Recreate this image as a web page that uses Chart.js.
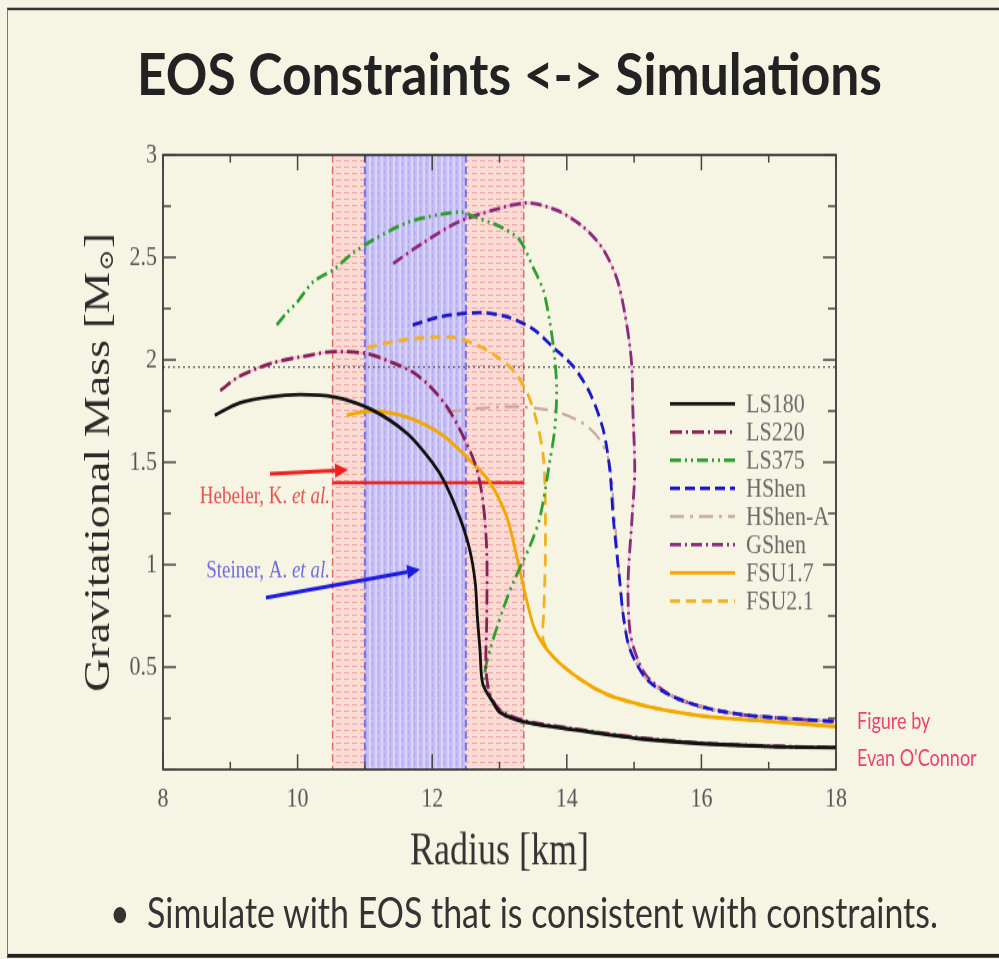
<!DOCTYPE html>
<html lang="en">
<head>
<meta charset="UTF-8">
<title>EOS Constraints &lt;-&gt; Simulations</title>
<script src="https://cdn.jsdelivr.net/npm/chart.js@4.4.1/dist/chart.umd.min.js"></script>
<style>
  html, body { margin: 0; padding: 0; background: #f6f5e4; }
  body { width: 999px; height: 959px; overflow: hidden; position: relative; }
  /* slide is laid out at 4:3 and stretched like the photo */
  #slide { position: absolute; left: 0; top: 0; width: 999px; height: 749px; transform: scaleY(1.2804); transform-origin: 0 0; }
  #frame { position: absolute; left: 7px; top: 6px; width: 992px; height: 737px; border-top: 2px solid #333; border-left: 1px solid #777; border-bottom: 3px solid #222; }
  .fit { position: absolute; white-space: nowrap; transform-origin: 0 0; font-family: Lato, sans-serif; }
  #title { left: 137px; top: 35px; font-size: 45px; line-height: 45px; font-weight: bold; color: #222; }
  #chart { position: absolute; left: 0; top: 0; }
  #bullet { left: 110px; top: 694px; font-size: 33px; line-height: 36px; color: #333; }
  .credit { position: absolute; left: 857px; font-family: Lato, sans-serif; font-size: 18px; line-height: 20px; color: #f0406e; white-space: nowrap; }
</style>
</head>
<body>
<div id="slide">
  <div id="frame"></div>
  <span id="title" class="fit" data-w="745">EOS Constraints &lt;-&gt; Simulations</span>
  <canvas id="chart" width="999" height="749"></canvas>
  <div class="credit" style="top:552px">Figure by</div>
  <div class="credit" style="top:581px">Evan O'Connor</div>
  <span id="bullet" class="fit" data-w="828">&bull;&nbsp;&nbsp;Simulate with EOS that is consistent with constraints.</span>
</div>

<script>
  // radius [km] / gravitational mass [Msun]
  const ls180R = [8.77, 9.14, 9.6, 10.04, 10.53, 11.08, 11.63, 12.0, 12.19, 12.41, 12.56, 12.64, 12.67, 12.71, 12.75, 12.9, 13.01, 13.35, 14.09, 15.09, 16.08, 17.06, 18.0];
  const ls180M = [1.73, 1.79, 1.82, 1.83, 1.82, 1.76, 1.64, 1.5, 1.4, 1.23, 1.07, 0.91, 0.75, 0.585, 0.42, 0.33, 0.278, 0.234, 0.195, 0.15, 0.125, 0.112, 0.107];

  const ls220R = [8.85, 9.14, 9.63, 10.14, 10.53, 11.03, 11.42, 11.71, 11.97, 12.22, 12.41, 12.64, 12.75, 12.81, 12.81, 12.8, 12.86, 13.01, 13.35, 14.09, 15.09, 16.08, 17.06, 18.0];
  const ls220M = [1.85, 1.92, 1.985, 2.02, 2.04, 2.03, 1.985, 1.94, 1.87, 1.77, 1.66, 1.49, 1.32, 1.07, 0.73, 0.49, 0.366, 0.29, 0.24, 0.2, 0.155, 0.128, 0.114, 0.108];

  const ls375R = [9.69, 9.84, 9.99, 10.23, 10.53, 10.82, 11.12, 11.63, 12.12, 12.46, 12.61, 13.01, 13.3, 13.5, 13.65, 13.75, 13.82, 13.85, 13.82, 13.75, 13.6, 13.45, 13.2, 13.05, 12.86, 12.78, 12.86, 13.01, 13.35, 14.09, 15.09, 16.08, 17.06, 18.0];
  const ls375M = [2.17, 2.23, 2.28, 2.38, 2.44, 2.52, 2.585, 2.67, 2.71, 2.72, 2.7, 2.65, 2.585, 2.45, 2.34, 2.18, 2.01, 1.85, 1.66, 1.51, 1.23, 1.09, 0.91, 0.78, 0.585, 0.46, 0.356, 0.285, 0.236, 0.197, 0.153, 0.127, 0.113, 0.108];

  const hshenR = [11.71, 12.12, 12.71, 13.11, 13.5, 13.8, 14.09, 14.34, 14.54, 14.64, 14.69, 14.79, 14.84, 14.94, 15.19, 15.58, 16.08, 16.57, 17.06, 18.0];
  const hshenM = [2.17, 2.21, 2.23, 2.21, 2.15, 2.06, 1.97, 1.84, 1.66, 1.46, 1.23, 0.91, 0.75, 0.585, 0.44, 0.356, 0.3, 0.27, 0.254, 0.234];

  const hshenAR = [12.22, 12.61, 13.0, 13.35, 13.85, 14.24, 14.49, 14.64, 14.69, 14.79, 14.84, 14.94, 15.19, 15.58, 16.08, 16.57, 17.06, 18.0];
  const hshenAM = [1.746, 1.76, 1.77, 1.77, 1.746, 1.69, 1.61, 1.49, 1.32, 0.91, 0.75, 0.585, 0.44, 0.356, 0.3, 0.27, 0.254, 0.234];

  const gshenR = [11.42, 11.86, 12.37, 12.9, 13.41, 13.85, 14.24, 14.54, 14.75, 14.86, 14.94, 14.97, 14.98, 15.01, 14.97, 14.91, 14.94, 15.04, 15.19, 15.58, 16.08, 16.57, 17.06, 18.0];
  const gshenM = [2.47, 2.57, 2.67, 2.73, 2.766, 2.73, 2.65, 2.54, 2.39, 2.23, 2.06, 1.94, 1.77, 1.46, 1.23, 0.91, 0.67, 0.55, 0.454, 0.356, 0.3, 0.27, 0.254, 0.234];

  const fsu17R = [10.73, 11.12, 11.63, 12.12, 12.56, 12.86, 13.11, 13.27, 13.38, 13.53, 13.8, 14.2, 14.6, 15.09, 15.58, 16.08, 17.06, 18.0];
  const fsu17M = [1.73, 1.75, 1.72, 1.64, 1.51, 1.4, 1.23, 1.02, 0.86, 0.68, 0.55, 0.44, 0.366, 0.317, 0.283, 0.259, 0.234, 0.21];

  const fsu21R = [11.03, 11.63, 12.31, 12.61, 12.9, 13.2, 13.41, 13.56, 13.65, 13.68, 13.68, 13.66, 13.65, 13.8, 14.2, 14.6, 15.09, 15.58, 16.08, 17.06, 18.0];
  const fsu21M = [2.06, 2.1, 2.11, 2.08, 2.03, 1.95, 1.84, 1.69, 1.53, 1.32, 1.02, 0.78, 0.63, 0.55, 0.44, 0.366, 0.317, 0.283, 0.259, 0.234, 0.21];

  // constraints
  const hebelerBand = [10.52, 13.36];   // radius range
  const steinerBand = [11.0, 12.5];
  const hebelerMass = 1.4;
  const pulsarMass = 1.965;
  const radiusRange = [8, 18];
  const hebelerArrow = [[9.59, 1.444], [10.75, 1.463]];
  const steinerArrow = [[9.53, 0.839], [11.82, 0.976]];
  const hebelerLabelAt = [10.48, 1.332];
  const steinerLabelAt = [10.48, 0.966];

  const xTicks = [8, 10, 12, 14, 16, 18];
  const yTicks = [0, 0.5, 1, 1.5, 2, 2.5, 3];

  function pts(r, m) { return r.map((v, i) => ({ x: v, y: m[i] })); }

  const curves = [
    { label: 'LS180',   r: ls180R,  m: ls180M,  color: '#111111', dash: [],                 width: 2.8 },
    { label: 'LS220',   r: ls220R,  m: ls220M,  color: '#86205a', dash: [12, 4, 2, 4],      width: 2.8, halo: true },
    { label: 'LS375',   r: ls375R,  m: ls375M,  color: '#2e9e2e', dash: [11, 4, 2, 4, 2, 4], width: 2.8 },
    { label: 'HShen',   r: hshenR,  m: hshenM,  color: '#1818c8', dash: [10, 5],            width: 2.8 },
    { label: 'HShen-A', r: hshenAR, m: hshenAM, color: '#c6a6a2', dash: [14, 6, 3, 6],      width: 2.2 },
    { label: 'GShen',   r: gshenR,  m: gshenM,  color: '#8a2a7c', dash: [11, 4, 2, 4],      width: 2.8, halo: true },
    { label: 'FSU1.7',  r: fsu17R,  m: fsu17M,  color: '#f2a800', dash: [],                 width: 2.8 },
    { label: 'FSU2.1',  r: fsu21R,  m: fsu21M,  color: '#f4b020', dash: [10, 6],            width: 2.8 }
  ];

  const datasets = [];
  curves.forEach(c => {
    datasets.push({ label: c.label, data: pts(c.r, c.m), showLine: true, borderColor: c.color,
      borderWidth: c.width, borderDash: c.dash, pointRadius: 0, fill: false });
  });
  // pink glow under the dash-dot Shen / LS220 lines
  curves.filter(c => c.halo).forEach(c => {
    datasets.push({ label: c.label + ' halo', data: pts(c.r, c.m), showLine: true,
      borderColor: 'rgba(244,150,200,0.55)', borderWidth: 2, pointRadius: 0, fill: false });
  });
  datasets.push({ label: 'Hebeler line', data: pts(hebelerBand, [hebelerMass, hebelerMass]), showLine: true,
    borderColor: '#ee2020', borderWidth: 2.6, pointRadius: 0, tension: 0 });
  datasets.push({ label: '1.97', data: pts(radiusRange, [pulsarMass, pulsarMass]), showLine: true,
    borderColor: '#555', borderWidth: 1.3, borderDash: [2, 3], pointRadius: 0, tension: 0 });

  function makePattern(ctx, w, h, draw) {
    const c = document.createElement('canvas');
    c.width = w; c.height = h;
    draw(c.getContext('2d'));
    return ctx.createPattern(c, 'repeat');
  }

  const bandsPlugin = {
    id: 'bands',
    beforeDatasetsDraw(chart) {
      const { ctx, chartArea: a, scales: { x } } = chart;
      const redPat = makePattern(ctx, 8, 5, g => {
        g.fillStyle = '#fadcd5'; g.fillRect(0, 0, 8, 5);
        g.fillStyle = '#f1a4a2'; g.fillRect(0, 0, 5, 1);
      });
      const bluePat = makePattern(ctx, 6, 6, g => {
        g.fillStyle = '#c6bff2'; g.fillRect(0, 0, 6, 6);
        g.fillStyle = '#b0a7ee'; g.fillRect(0, 0, 1, 4);
        g.fillStyle = '#d9d3f7'; g.fillRect(3, 0, 2, 6);
      });
      ctx.save();
      const r0 = x.getPixelForValue(hebelerBand[0]), r1 = x.getPixelForValue(hebelerBand[1]);
      ctx.fillStyle = redPat;
      ctx.fillRect(r0, a.top, r1 - r0, a.bottom - a.top);
      const b0 = x.getPixelForValue(steinerBand[0]), b1 = x.getPixelForValue(steinerBand[1]);
      ctx.fillStyle = bluePat;
      ctx.fillRect(b0, a.top, b1 - b0, a.bottom - a.top);
      ctx.lineWidth = 1.5;
      ctx.setLineDash([6, 3]);
      ctx.strokeStyle = '#e46a6a';
      [r0, r1].forEach(p => { ctx.beginPath(); ctx.moveTo(p, a.top); ctx.lineTo(p, a.bottom); ctx.stroke(); });
      ctx.lineWidth = 2;
      ctx.strokeStyle = '#7a6fe4';
      [b0, b1].forEach(p => { ctx.beginPath(); ctx.moveTo(p, a.top); ctx.lineTo(p, a.bottom); ctx.stroke(); });
      ctx.restore();
    }
  };

  function arrow(ctx, x0, y0, x1, y1, color) {
    const ang = Math.atan2(y1 - y0, x1 - x0), L = 13, W = 5.5;
    const bx = x1 - L * Math.cos(ang), by = y1 - L * Math.sin(ang);
    ctx.strokeStyle = color; ctx.fillStyle = color; ctx.lineWidth = 3;
    ctx.beginPath(); ctx.moveTo(x0, y0); ctx.lineTo(bx, by); ctx.stroke();
    ctx.beginPath();
    ctx.moveTo(x1, y1);
    ctx.lineTo(bx + W * Math.sin(ang), by - W * Math.cos(ang));
    ctx.lineTo(bx - W * Math.sin(ang), by + W * Math.cos(ang));
    ctx.closePath(); ctx.fill();
  }

  function refLabel(ctx, px, py, main, color) {
    ctx.fillStyle = color;
    ctx.textBaseline = 'middle';
    ctx.textAlign = 'left';
    ctx.font = 'italic 19px "Liberation Serif"';
    const wi = ctx.measureText('et al.').width;
    ctx.font = '19px "Liberation Serif"';
    const wm = ctx.measureText(main).width;
    ctx.fillText(main, px - wi - wm, py);
    ctx.font = 'italic 19px "Liberation Serif"';
    ctx.fillText('et al.', px - wi, py);
  }

  const notesPlugin = {
    id: 'notes',
    afterDatasetsDraw(chart) {
      const { ctx, scales: { x, y } } = chart;
      const P = p => [x.getPixelForValue(p[0]), y.getPixelForValue(p[1])];
      ctx.save();
      let s = P(hebelerArrow[0]), t = P(hebelerArrow[1]);
      arrow(ctx, s[0], s[1], t[0], t[1], '#ee2020');
      s = P(steinerArrow[0]); t = P(steinerArrow[1]);
      arrow(ctx, s[0], s[1], t[0], t[1], '#1a1ae0');
      let l = P(hebelerLabelAt);
      refLabel(ctx, l[0], l[1], 'Hebeler, K. ', '#e85050');
      l = P(steinerLabelAt);
      refLabel(ctx, l[0], l[1], 'Steiner, A. ', '#6e6ae2');
      ctx.restore();
    }
  };

  const framePlugin = {
    id: 'frame',
    afterDraw(chart) {
      const { ctx, chartArea: a, scales: { x, y } } = chart;
      ctx.save();
      ctx.strokeStyle = '#222'; ctx.lineWidth = 1.6;
      ctx.strokeRect(a.left, a.top, a.right - a.left, a.bottom - a.top);
      ctx.strokeStyle = '#444'; ctx.lineWidth = 1.5;
      const seg = (x0, y0, x1, y1) => { ctx.beginPath(); ctx.moveTo(x0, y0); ctx.lineTo(x1, y1); ctx.stroke(); };
      for (let v = xTicks[0]; v <= xTicks[xTicks.length - 1]; v += 1) {
        const p = x.getPixelForValue(v), len = xTicks.includes(v) ? 12 : 6;
        seg(p, a.bottom, p, a.bottom - len);
        seg(p, a.top, p, a.top + len);
      }
      for (let i = 0; i <= 12; i++) {
        const p = y.getPixelForValue(i * 0.25), len = i % 2 === 0 ? 13 : 8;
        seg(a.left, p, a.left + len, p);
        seg(a.right, p, a.right - len, p);
      }
      ctx.restore();
    }
  };

  // y title with a subscript sun symbol
  const yTitlePlugin = {
    id: 'yTitle',
    afterDraw(chart) {
      const { ctx, chartArea: a } = chart;
      const font = '"Liberation Serif", "DejaVu Serif", serif';
      const main = 'Gravitational Mass [M', sub = '\u2299', close = ']';
      ctx.save();
      ctx.translate(100, (a.top + a.bottom) / 2);
      ctx.rotate(-Math.PI / 2);
      ctx.fillStyle = '#2a2a2a';
      ctx.textBaseline = 'middle';
      ctx.textAlign = 'left';
      ctx.font = '36px ' + font;
      const w1 = ctx.measureText(main).width, w3 = ctx.measureText(close).width;
      ctx.font = '20px ' + font;
      const w2 = ctx.measureText(sub).width + 2;
      let sx = -(w1 + w2 + w3) / 2;
      ctx.font = '36px ' + font;
      ctx.fillText(main, sx, 0);
      ctx.font = '20px ' + font;
      ctx.fillText(sub, sx + w1 + 1, 8);
      ctx.font = '36px ' + font;
      ctx.fillText(close, sx + w1 + w2, 0);
      ctx.restore();
    }
  };

  const legendPlugin = {
    id: 'eosLegend',
    afterDraw(chart) {
      const { ctx, chartArea: a } = chart;
      ctx.save();
      ctx.font = '22px "Liberation Serif"';
      ctx.textBaseline = 'middle';
      ctx.textAlign = 'left';
      curves.forEach((c, i) => {
        const yy = a.top + 194.4 + i * 22;
        ctx.strokeStyle = c.color; ctx.lineWidth = c.width; ctx.setLineDash(c.dash);
        ctx.beginPath(); ctx.moveTo(a.right - 166, yy); ctx.lineTo(a.right - 101, yy); ctx.stroke();
        ctx.setLineDash([]);
        ctx.fillStyle = '#6a6a6a';
        ctx.fillText(c.label, a.right - 90, yy + 1);
      });
      ctx.restore();
    }
  };

  const serif = '"Liberation Serif", "DejaVu Serif", serif';
  new Chart(document.getElementById('chart'), {
    type: 'scatter',
    data: { datasets },
    options: {
      responsive: false,
      animation: false,
      events: [],
      layout: { padding: { left: 0, right: 163, top: 121, bottom: 48 } },
      elements: { line: { tension: 0.3 }, point: { radius: 0 } },
      plugins: { legend: { display: false }, tooltip: { enabled: false } },
      scales: {
        x: {
          type: 'linear', min: radiusRange[0], max: radiusRange[1],
          afterBuildTicks: s => { s.ticks = xTicks.map(v => ({ value: v })); },
          afterFit: s => { s.height = 100; },
          grid: { display: false, drawTicks: false }, border: { display: false },
          ticks: { color: '#555', padding: 10, font: { family: serif, size: 22 } },
          title: { display: true, text: 'Radius [km]', color: '#333', font: { family: serif, size: 36 }, padding: { top: 0, bottom: 14 } }
        },
        y: {
          type: 'linear', min: 0, max: 3,
          afterBuildTicks: s => { s.ticks = yTicks.map(v => ({ value: v })); },
          afterFit: s => { s.width = 163; },
          grid: { display: false, drawTicks: false }, border: { display: false },
          ticks: { color: '#555', padding: 6, font: { family: serif, size: 22 }, callback: v => v === 0 ? '' : String(v) },
          title: { display: false }
        }
      }
    },
    plugins: [bandsPlugin, notesPlugin, framePlugin, yTitlePlugin, legendPlugin]
  });

  // squeeze / stretch the slide text to the widths seen in the photo
  function fitText() {
    document.querySelectorAll('.fit').forEach(el => {
      el.style.transform = 'none';
      const k = parseFloat(el.dataset.w) / el.getBoundingClientRect().width;
      el.style.transform = 'scaleX(' + k.toFixed(4) + ')';
    });
  }
  fitText();
  if (document.fonts && document.fonts.ready) document.fonts.ready.then(fitText);
</script>
</body>
</html>
